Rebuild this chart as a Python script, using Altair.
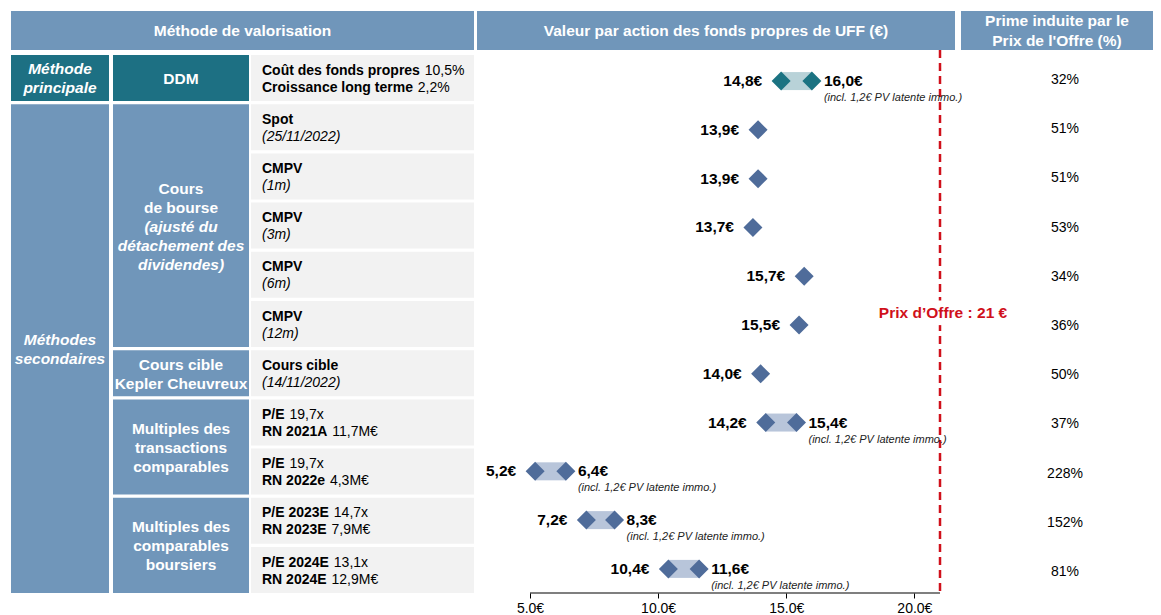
import altair as alt
import pandas as pd

FONT = "Liberation Sans"

# ------------------------------------------------------------------ data
low_values = [14.8, 13.9, 13.9, 13.7, 15.7, 15.5, 14.0, 14.2, 5.2, 7.2, 10.4]
high_values = [16.0, None, None, None, None, None, None, 15.4, 6.4, 8.3, 11.6]
premium_pct = [32, 51, 51, 53, 34, 36, 50, 37, 228, 152, 81]
is_primary = [True, False, False, False, False, False, False, False, False, False, False]
offer_price = 21
incl_note = "(incl. 1,2€ PV latente immo.)"
axis_ticks = [5, 10, 15, 20]
axis_extent = [5, 21]

desc_l1_bold = ["Coût des fonds propres", "Spot", "CMPV", "CMPV", "CMPV", "CMPV",
                "Cours cible", "P/E", "P/E", "P/E 2023E", "P/E 2024E"]
desc_l1_reg = ["10,5%", "", "", "", "", "", "", "19,7x", "19,7x", "14,7x", "13,1x"]
desc_l2_bold = ["Croissance long terme", "", "", "", "", "", "",
                "RN 2021A", "RN 2022e", "RN 2023E", "RN 2024E"]
desc_l2_reg = ["2,2%", "(25/11/2022)", "(1m)", "(3m)", "(6m)", "(12m)", "(14/11/2022)",
               "11,7M€", "4,3M€", "7,9M€", "12,9M€"]

header_titles = [["Méthode de valorisation"],
                 ["Valeur par action des fonds propres de UFF (€)"],
                 ["Prime induite par le", "Prix de l'Offre (%)"]]

# (first row, last row, kind, [(line, style)])  style: b = bold, bi = bold italic
col1_groups = [
    (0, 0, "primary", [("Méthode", "bi"), ("principale", "bi")]),
    (1, 10, "secondary", [("Méthodes", "bi"), ("secondaires", "bi")]),
]
col2_groups = [
    (0, 0, "primary", [("DDM", "b")]),
    (1, 5, "secondary", [("Cours", "b"), ("de bourse", "b"), ("(ajusté du", "bi"),
                         ("détachement des", "bi"), ("dividendes)", "bi")]),
    (6, 6, "secondary", [("Cours cible", "b"), ("Kepler Cheuvreux", "b")]),
    (7, 8, "secondary", [("Multiples des", "b"), ("transactions", "b"), ("comparables", "b")]),
    (9, 10, "secondary", [("Multiples des", "b"), ("comparables", "b"), ("boursiers", "b")]),
]

# ------------------------------------------------------------------ layout / style
PX_W, PX_H = 1142, 582
U = 49.2                       # px per table row
Y0, Y1 = -44 / U, 538 / U
ROW_GAP = 3.2 / U
HEADER_BOTTOM = -5 / U
COL1, COL2, COL3 = (0, 98), (102, 238), (240, 463)
HDR = [(0, 463), (466, 944), (950, 1142)]
DESC_X = 251
PCT_X = 1054
PLOT_PX = (519, 929)
PCT_OFF = 0.51
MARK_OFF0, MARK_PITCH = 0.53, 0.9915
NUDGE = 0.02
OFFER_LABEL_Y = 5.24

C_HEADER = "#7096BA"
C_PRIMARY = "#1D7083"
C_SECONDARY = "#7096BA"
C_DESC = "#F2F2F2"
C_DIA = {"primary": "#1B7382", "secondary": "#4F6C9A"}
C_BAR = {"primary": "#B8D2D8", "secondary": "#B8C5DA"}
C_OFFER = "#D0101B"

BOLD_W = {'C': 722, 'o': 611, 'û': 611, 't': 333, ' ': 278, 'd': 611, 'e': 556, 's': 556,
          'f': 333, 'n': 611, 'p': 611, 'r': 389, 'i': 278, 'a': 556, 'l': 278, 'g': 611,
          'm': 889, 'P': 667, '/': 278, 'E': 667, 'R': 722, 'N': 722, 'A': 722}


def bold_width(s, size):
    return sum(BOLD_W.get(c, 556) for c in s) * size / 1000.0


k = (PLOT_PX[1] - PLOT_PX[0]) / (axis_extent[1] - axis_extent[0])
XV_SCALE = alt.Scale(domain=[axis_extent[0] - PLOT_PX[0] / k,
                             axis_extent[0] + (PX_W - PLOT_PX[0]) / k], nice=False, zero=False)
TX_SCALE = alt.Scale(domain=[0, PX_W], nice=False, zero=False)
Y_SCALE = alt.Scale(domain=[Y0, Y1], reverse=True, nice=False, zero=False)
X_AXIS = alt.Axis(values=axis_ticks, domain=False, grid=False, tickSize=5, tickColor="black",
                  tickWidth=1, labelExpr="format(datum.value, '.1f') + '€'", labelFontSize=14,
                  labelColor="black", labelFont=FONT, labelPadding=3, title=None)

# ------------------------------------------------------------------ table content
rects, texts = [], []


def add_text(x, y, t, color, weight, style, align, size):
    texts.append(dict(x=x, y=y, text=t, color=color, weight=weight, fstyle=style,
                      align=align, size=size))


hc = (Y0 + HEADER_BOTTOM) / 2
for (x0, x1), lines in zip(HDR, header_titles):
    rects.append(dict(x=x0, x2=x1, y=Y0, y2=HEADER_BOTTOM, fill=C_HEADER))
    n = len(lines)
    for j, l in enumerate(lines):
        add_text((x0 + x1) / 2, hc + (j - (n - 1) / 2) * 20 / U, l, "white", "bold", "normal",
                 "center", 15.5)

for (x0, x1), groups in ((COL1, col1_groups), (COL2, col2_groups)):
    for r0, r1, kind, lines in groups:
        fill = C_PRIMARY if kind == "primary" else C_SECONDARY
        rects.append(dict(x=x0, x2=x1, y=r0, y2=r1 + 1 - ROW_GAP, fill=fill))
        c = (r0 + r1 + 1 - ROW_GAP) / 2 + NUDGE
        n = len(lines)
        for j, (l, st) in enumerate(lines):
            add_text((x0 + x1) / 2, c + (j - (n - 1) / 2) * 19 / U, l, "white", "bold",
                     "italic" if st == "bi" else "normal", "center", 15.5)

FS = 14
for i in range(len(low_values)):
    rects.append(dict(x=COL3[0], x2=COL3[1], y=i, y2=i + 1 - ROW_GAP, fill=C_DESC))
    c = i + 0.49
    for j, (b, r) in enumerate(((desc_l1_bold[i], desc_l1_reg[i]),
                                (desc_l2_bold[i], desc_l2_reg[i]))):
        y = c + (j - 0.5) * 17 / U
        if b:
            add_text(DESC_X, y, b, "black", "bold", "normal", "left", FS)
            if r:
                add_text(DESC_X + bold_width(b, FS) + 0.278 * FS + 1, y, r, "black", "normal",
                         "normal", "left", FS)
        elif r:
            add_text(DESC_X, y, r, "black", "normal", "italic", "left", FS)
    add_text(PCT_X, i + PCT_OFF, f"{premium_pct[i]}%", "black", "normal", "normal", "center", 14)

rect_df = pd.DataFrame(rects)
text_df = pd.DataFrame(texts)

table_layers = [
    alt.Chart(rect_df).mark_rect().encode(
        x=alt.X("x:Q", scale=TX_SCALE, axis=None), x2="x2:Q",
        y=alt.Y("y:Q", scale=Y_SCALE, axis=None), y2="y2:Q",
        color=alt.Color("fill:N", scale=None))
]
for (w, st, al, sz), sub in text_df.groupby(["weight", "fstyle", "align", "size"]):
    table_layers.append(
        alt.Chart(sub.reset_index(drop=True)).mark_text(
            font=FONT, fontWeight=w, fontStyle=st, align=al, baseline="middle", fontSize=sz
        ).encode(
            x=alt.X("x:Q", scale=TX_SCALE, axis=None),
            y=alt.Y("y:Q", scale=Y_SCALE, axis=None),
            text="text:N",
            color=alt.Color("color:N", scale=None)))
table_group = alt.layer(*table_layers)

# ------------------------------------------------------------------ plot content
rows = []
for i, (lo, hi, p) in enumerate(zip(low_values, high_values, is_primary)):
    kind = "primary" if p else "secondary"
    rows.append(dict(row=i, y=MARK_OFF0 + i * MARK_PITCH, low=lo, high=hi,
                     dia=C_DIA[kind], bar=C_BAR[kind]))
vals = pd.DataFrame(rows)
ranged = vals.dropna(subset=["high"]).reset_index(drop=True)
points = pd.concat([
    vals[["y", "low", "dia"]].rename(columns={"low": "v"}),
    ranged[["y", "high", "dia"]].rename(columns={"high": "v"}),
]).reset_index(drop=True)


def XV(field):
    return alt.X(f"{field}:Q", scale=XV_SCALE, axis=X_AXIS, title=None)


YV = alt.Y("y:Q", scale=Y_SCALE, axis=None)

offer_df = pd.DataFrame([dict(v=offer_price, y=HEADER_BOTTOM, y2=Y1,
                              ly=OFFER_LABEL_Y, ly0=OFFER_LABEL_Y - 0.25,
                              ly1=OFFER_LABEL_Y + 0.25, vl=offer_price - 0.2,
                              vr=offer_price + 0.2,
                              label=f"Prix d’Offre : {offer_price:g} €")])
axis_df = pd.DataFrame([dict(a=axis_extent[0], b=axis_extent[1], y=Y1)])

fmt = "replace(format(datum.{f}, '.1f'), '.', ',') + '€'"

plot_layers = [
    alt.Chart(offer_df).mark_rule(color=C_OFFER, strokeWidth=2.5, strokeDash=[8, 5]).encode(
        x=XV("v"), y=alt.Y("y:Q", scale=Y_SCALE, axis=None), y2="y2:Q"),
    alt.Chart(offer_df).mark_rect(color="white").encode(
        x=XV("vl"), x2="vr:Q", y=alt.Y("ly0:Q", scale=Y_SCALE, axis=None), y2="ly1:Q"),
    alt.Chart(offer_df).mark_text(font=FONT, fontWeight="bold", fontSize=15.5, color=C_OFFER,
                                  align="center", baseline="middle", dx=3).encode(
        x=XV("v"), y=alt.Y("ly:Q", scale=Y_SCALE, axis=None), text="label:N"),
    alt.Chart(axis_df).mark_rule(color="black", strokeWidth=1.2).encode(
        x=XV("a"), x2="b:Q", y=YV),
    alt.Chart(ranged).mark_rule(strokeWidth=18, strokeCap="butt").encode(
        x=XV("low"), x2="high:Q", y=YV, color=alt.Color("bar:N", scale=None)),
    alt.Chart(points).mark_point(shape="diamond", filled=True, size=361, opacity=1,
                                 strokeWidth=0).encode(
        x=XV("v"), y=YV, color=alt.Color("dia:N", scale=None)),
    alt.Chart(vals).mark_text(font=FONT, fontWeight="bold", fontSize=15.5, color="black",
                              align="right", baseline="middle", dx=-19).transform_calculate(
        lab=fmt.format(f="low")).encode(x=XV("low"), y=YV, text="lab:N"),
    alt.Chart(ranged).mark_text(font=FONT, fontWeight="bold", fontSize=15.5, color="black",
                                align="left", baseline="middle", dx=12).transform_calculate(
        lab=fmt.format(f="high")).encode(x=XV("high"), y=YV, text="lab:N"),
    alt.Chart(ranged).mark_text(font=FONT, fontStyle="italic", fontSize=11, color="#222222",
                                align="left", baseline="middle", dx=12, dy=17).transform_calculate(
        lab=f"'{incl_note}'").encode(x=XV("high"), y=YV, text="lab:N"),
]
plot_group = alt.layer(*plot_layers)

chart = alt.layer(table_group, plot_group).resolve_scale(x="independent").properties(
    width=PX_W, height=PX_H,
    padding={"left": 3, "top": 3, "right": 0, "bottom": 2},
    background="white",
).configure_view(stroke=None)

chart.save("out.html", embed_options={"renderer": "svg", "actions": False})
